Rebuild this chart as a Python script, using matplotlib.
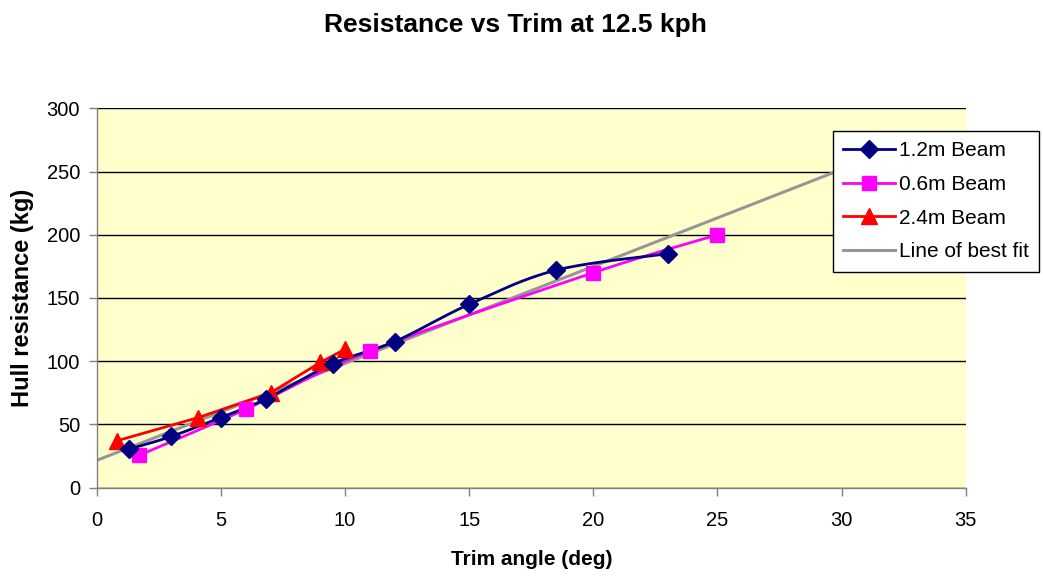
import numpy as np
import matplotlib
matplotlib.use("Agg")
import matplotlib.pyplot as plt
from matplotlib.lines import Line2D

# ---- data ----
beam12_x = [1.3, 3.0, 5.0, 6.8, 9.5, 12.0, 15.0, 18.5, 23.0]
beam12_y = [30.5, 40.5, 55.5, 70, 98, 115.5, 145, 172, 185]
beam06_x = [1.7, 6.0, 11.0, 20.0, 25.0]
beam06_y = [25.5, 62, 108, 170, 200]
beam24_x = [0.8, 4.1, 7.0, 9.0, 10.0]
beam24_y = [37, 55.5, 75, 99, 109.5]
fit_x = [0, 30]
fit_y = [21.6, 251.7]

x_ticks = [0, 5, 10, 15, 20, 25, 30, 35]
y_ticks = [0, 50, 100, 150, 200, 250, 300]

title = "Resistance vs Trim at 12.5 kph"
xlabel = "Trim angle (deg)"
ylabel = "Hull resistance (kg)"
labels = ["1.2m Beam", "0.6m Beam", "2.4m Beam", "Line of best fit"]


def smooth(xs, ys, n=30):
    """Excel-like smoothed curve (Bezier through points)."""
    P = np.column_stack([xs, ys]).astype(float)
    out = [P[0]]
    m = len(P)
    for i in range(m - 1):
        p0 = P[i - 1] if i > 0 else P[i]
        p1 = P[i]
        p2 = P[i + 1]
        p3 = P[i + 2] if i + 2 < m else P[i + 1]
        c1 = p1 + (p2 - p0) / 6.0
        c2 = p2 - (p3 - p1) / 6.0
        t = np.linspace(0, 1, n)[1:, None]
        seg = ((1 - t) ** 3) * p1 + 3 * ((1 - t) ** 2) * t * c1 + 3 * (1 - t) * t ** 2 * c2 + t ** 3 * p2
        out.extend(seg)
    out = np.array(out)
    return out[:, 0], out[:, 1]


plt.rcParams['font.family'] = ['Liberation Sans', 'DejaVu Sans']

fig = plt.figure(figsize=(10.43, 5.76), dpi=100)
ax = fig.add_axes([0.0927, 0.1533, 0.8333, 0.6587])
ax.set_facecolor('#FFFFCC')

navy = '#000080'
magenta = '#FF00FF'
red = '#FF0000'
gray = '#969696'

ax.plot(fit_x, fit_y, color=gray, lw=2.2, zorder=2)

sx, sy = smooth(beam06_x, beam06_y)
ax.plot(sx, sy, color=magenta, lw=2, zorder=3)
ax.plot(beam06_x, beam06_y, ls='none', marker='s', ms=10, color=magenta, zorder=5)

sx, sy = smooth(beam12_x, beam12_y)
ax.plot(sx, sy, color=navy, lw=2, zorder=4)
ax.plot(beam12_x, beam12_y, ls='none', marker='D', ms=9.5, color=navy, zorder=6)

ax.plot(beam24_x, beam24_y, color=red, lw=2, marker='^', ms=11, zorder=4)

ax.set_xlim(0, 35)
ax.set_ylim(0, 300)
ax.set_xticks(x_ticks)
ax.set_yticks(y_ticks)
ax.yaxis.grid(True, color='black', lw=1)
ax.set_axisbelow(True)
for s in ['top', 'right']:
    ax.spines[s].set_visible(False)
for s in ['left', 'bottom']:
    ax.spines[s].set_color('#808080')
    ax.spines[s].set_linewidth(1)
ax.tick_params(axis='both', direction='out', length=6, width=1, color='#808080',
               labelsize=14.5, pad=6)
ax.tick_params(axis='x', pad=11)

ax.set_xlabel(xlabel, fontsize=15, fontweight='bold', labelpad=14)
ax.set_ylabel(ylabel, fontsize=17, fontweight='bold', labelpad=9)
fig.suptitle(title, fontsize=19, fontweight='bold', y=0.978, x=0.494)

handles = [
    Line2D([], [], color=navy, lw=2, marker='D', ms=9.5),
    Line2D([], [], color=magenta, lw=2, marker='s', ms=10),
    Line2D([], [], color=red, lw=2, marker='^', ms=11),
    Line2D([], [], color=gray, lw=2.2),
]
leg = fig.legend(handles, labels, loc='upper left', bbox_to_anchor=(0.7987, 0.7726),
                 fontsize=15, frameon=True, fancybox=False, edgecolor='black',
                 framealpha=1, handlelength=2.45, handletextpad=0.2,
                 borderpad=0.5, labelspacing=0.7, borderaxespad=0)
leg.get_frame().set_linewidth(1)

fig.savefig('out.png', dpi=100)
